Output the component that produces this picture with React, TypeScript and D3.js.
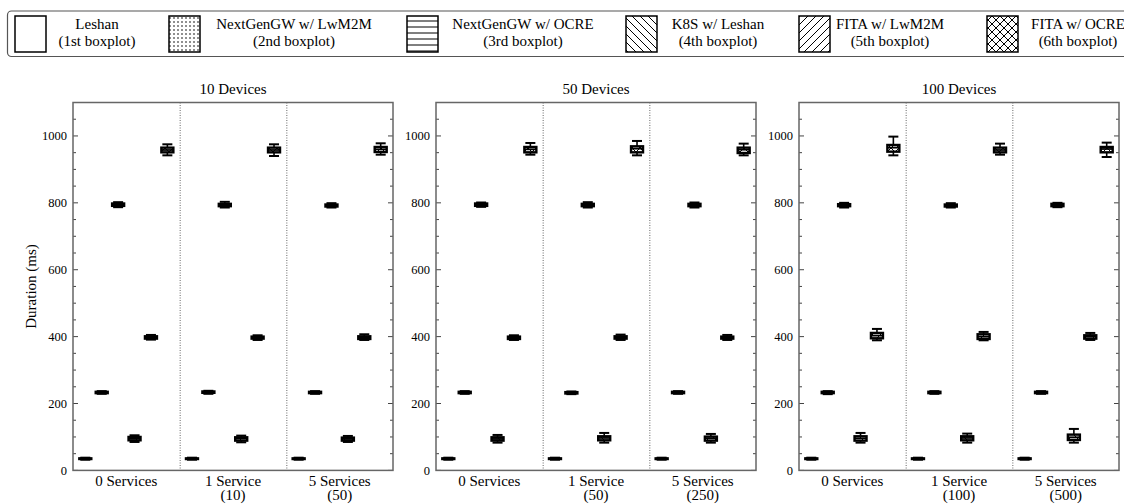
import * as d3 from "d3";
import React, { useRef, useEffect } from "react";

// panels / groups
const panelTitles = ["10 Devices", "50 Devices", "100 Devices"];
const groupLabels = [
  [["0 Services"], ["1 Service", "(10)"], ["5 Services", "(50)"]],
  [["0 Services"], ["1 Service", "(50)"], ["5 Services", "(250)"]],
  [["0 Services"], ["1 Service", "(100)"], ["5 Services", "(500)"]],
];

const seriesNames = [
  "Leshan",
  "NextGenGW w/ LwM2M",
  "NextGenGW w/ OCRE",
  "K8S w/ Leshan",
  "FITA w/ LwM2M",
  "FITA w/ OCRE",
];
const seriesNotes = [
  "(1st boxplot)",
  "(2nd boxplot)",
  "(3rd boxplot)",
  "(4th boxplot)",
  "(5th boxplot)",
  "(6th boxplot)",
];
const seriesPatterns = ["none", "dots", "hlines", "bdiag", "fdiag", "cross"];

// [whisker low, q1, median, q3, whisker high] -- panel 1 (3 groups), panel 2, panel 3
const leshanStats = [
  [32, 34, 35, 36, 38], [32, 34, 35, 36, 38], [32, 34, 35, 36, 38],
  [32, 34, 35, 36, 38], [32, 34, 35, 36, 38], [32, 34, 35, 36, 38],
  [32, 34, 35, 36, 38], [32, 34, 35, 36, 38], [32, 34, 35, 36, 38],
];
const ngwLwm2mStats = [
  [229, 231, 233, 235, 237], [229, 232, 234, 236, 238], [229, 231, 233, 235, 237],
  [229, 231, 233, 235, 237], [228, 230, 232, 234, 236], [229, 231, 233, 235, 237],
  [228, 231, 233, 235, 237], [229, 231, 233, 235, 237], [229, 231, 233, 235, 237],
];
const ngwOcreStats = [
  [787, 791, 795, 798, 802], [786, 790, 794, 797, 803], [786, 789, 792, 795, 799],
  [788, 791, 795, 798, 801], [786, 790, 794, 797, 802], [786, 790, 794, 797, 801],
  [786, 790, 793, 796, 800], [786, 789, 792, 795, 799], [787, 790, 794, 797, 800],
];
const k8sStats = [
  [85, 90, 96, 100, 105], [84, 89, 95, 99, 104], [85, 89, 94, 98, 103],
  [83, 89, 94, 99, 106], [83, 90, 97, 102, 112], [83, 89, 96, 101, 109],
  [83, 89, 96, 102, 112], [83, 90, 97, 102, 110], [83, 91, 99, 107, 124],
];
const fitaLwm2mStats = [
  [391, 394, 398, 401, 405], [390, 394, 397, 400, 404], [390, 393, 397, 401, 407],
  [390, 393, 397, 400, 404], [390, 394, 398, 401, 406], [390, 394, 397, 400, 405],
  [389, 395, 403, 411, 423], [389, 393, 400, 407, 414], [390, 394, 400, 404, 411],
];
const fitaOcreStats = [
  [942, 951, 958, 965, 975], [940, 951, 958, 965, 975], [944, 952, 960, 967, 978],
  [944, 951, 960, 967, 979], [942, 951, 962, 969, 985], [942, 949, 959, 965, 977],
  [942, 953, 965, 973, 998], [944, 951, 958, 965, 977], [937, 951, 961, 967, 980],
];
const allStats = [leshanStats, ngwLwm2mStats, ngwOcreStats, k8sStats, fitaLwm2mStats, fitaOcreStats];

const yTickLabels = [0, 200, 400, 600, 800, 1000];
const yMax = 1100;

// legend layout (swatch left edge, text centre)
const legendSwatchX = [15, 169, 407, 626, 799, 987];
const legendTextX = [97, 294, 523, 718, 890, 1078];

const FONT = "'Liberation Serif', 'Times New Roman', serif";

const BoxChart: React.FC<{ width?: number; height?: number }> = ({ width = 1124, height = 504 }) => {
  const svgRef = useRef<SVGSVGElement | null>(null);

  useEffect(() => {
    const svg = d3.select(svgRef.current).attr("width", width).attr("height", height).html("");

    // hatch patterns
    const defs = svg.append("defs");
    const pat = (id: string, size: number) =>
      defs.append("pattern").attr("id", id).attr("patternUnits", "userSpaceOnUse")
        .attr("width", size).attr("height", size);
    const dots = pat("dots", 4);
    dots.append("rect").attr("width", 4).attr("height", 4).attr("fill", "white");
    dots.append("circle").attr("cx", 2).attr("cy", 2).attr("r", 0.8).attr("fill", "black");
    const hl = pat("hlines", 6);
    hl.append("rect").attr("width", 6).attr("height", 6).attr("fill", "white");
    hl.append("line").attr("x1", 0).attr("x2", 6).attr("y1", 3).attr("y2", 3).attr("stroke", "black").attr("stroke-width", 1);
    const bd = pat("bdiag", 8);
    bd.append("rect").attr("width", 8).attr("height", 8).attr("fill", "white");
    bd.append("path").attr("d", "M-2,-2L10,10M-2,6L2,10M6,-2L10,2").attr("stroke", "black").attr("stroke-width", 1);
    const fd = pat("fdiag", 8);
    fd.append("rect").attr("width", 8).attr("height", 8).attr("fill", "white");
    fd.append("path").attr("d", "M-2,10L10,-2M-2,2L2,-2M6,10L10,6").attr("stroke", "black").attr("stroke-width", 1);
    const cr = pat("cross", 8);
    cr.append("rect").attr("width", 8).attr("height", 8).attr("fill", "white");
    cr.append("path").attr("d", "M-2,-2L10,10M-2,6L2,10M6,-2L10,2M-2,10L10,-2M-2,2L2,-2M6,10L10,6")
      .attr("stroke", "black").attr("stroke-width", 1);
    const fillOf = (p: string) => (p === "none" ? "white" : `url(#${p})`);

    // legend
    svg.append("rect")
      .attr("x", 7.5).attr("y", 11).attr("width", 1140).attr("height", 45.5)
      .attr("rx", 4).attr("fill", "white").attr("stroke", "#555").attr("stroke-width", 1.2);

    seriesNames.forEach((name, i) => {
      svg.append("rect")
        .attr("x", legendSwatchX[i]).attr("y", 16).attr("width", 31).attr("height", 36)
        .attr("fill", fillOf(seriesPatterns[i])).attr("stroke", "black").attr("stroke-width", 1.5);
      [name, seriesNotes[i]].forEach((line, li) => {
        svg.append("text")
          .attr("x", legendTextX[i]).attr("y", 29 + li * 17)
          .attr("text-anchor", "middle").attr("fill", "#000")
          .style("font-family", FONT).style("font-size", "15px")
          .text(line);
      });
    });

    // panels
    const panelW = 320;
    const panelStep = 363;
    const plotTop = 102.5;
    const plotBottom = 470.4;
    const yScale = d3.scaleLinear().domain([0, yMax]).range([plotBottom, plotTop]);
    const groupScale = d3.scaleBand<number>().domain([0, 1, 2]).range([0, panelW]);
    const boxScale = d3.scalePoint<number>().domain(d3.range(6)).range([0, groupScale.bandwidth()]).padding(0.75);

    const boxW = 12;
    const capW = 10;

    panelTitles.forEach((title, p) => {
      const g = svg.append("g").attr("transform", `translate(${73 + p * panelStep},0)`);

      // group separators
      [1, 2].forEach(k => {
        g.append("line")
          .attr("x1", groupScale(k)! + 0.5).attr("x2", groupScale(k)! + 0.5)
          .attr("y1", plotTop).attr("y2", plotBottom)
          .attr("stroke", "#666").attr("stroke-width", 1).attr("stroke-dasharray", "1,1.5");
      });

      // ticks (both sides, inward)
      const ticks = d3.range(0, yMax + 1, 50);
      ticks.forEach(v => {
        const major = v % 200 === 0;
        const len = major ? 5 : 3;
        g.append("line").attr("x1", 0).attr("x2", len).attr("y1", yScale(v)).attr("y2", yScale(v))
          .attr("stroke", "#444").attr("stroke-width", 1);
        g.append("line").attr("x1", panelW).attr("x2", panelW - len).attr("y1", yScale(v)).attr("y2", yScale(v))
          .attr("stroke", "#444").attr("stroke-width", 1);
      });

      yTickLabels.forEach(v => {
        g.append("text")
          .attr("x", -6).attr("y", yScale(v)).attr("dy", "0.35em")
          .attr("text-anchor", "end").attr("fill", "#000")
          .style("font-family", FONT).style("font-size", "12.5px")
          .text(v);
      });

      // frame
      g.append("rect")
        .attr("x", 0).attr("y", plotTop).attr("width", panelW).attr("height", plotBottom - plotTop)
        .attr("fill", "none").attr("stroke", "#666").attr("stroke-width", 1.5);

      // title
      g.append("text")
        .attr("x", panelW / 2).attr("y", 94).attr("text-anchor", "middle").attr("fill", "#000")
        .style("font-family", FONT).style("font-size", "15px")
        .text(title);

      // group labels
      groupLabels[p].forEach((lines, k) => {
        lines.forEach((line, li) => {
          g.append("text")
            .attr("x", groupScale(k)! + groupScale.bandwidth() / 2)
            .attr("y", 486 + li * 14).attr("text-anchor", "middle").attr("fill", "#000")
            .style("font-family", FONT).style("font-size", "15px")
            .text(line);
        });
      });

      // boxes
      [0, 1, 2].forEach(k => {
        allStats.forEach((stats, s) => {
          const [wl, q1, med, q3, wh] = stats[p * 3 + k];
          const cx = groupScale(k)! + boxScale(s)!;
          const bg = g.append("g");
          bg.append("line").attr("x1", cx).attr("x2", cx).attr("y1", yScale(wh)).attr("y2", yScale(q3))
            .attr("stroke", "black").attr("stroke-width", 1.6);
          bg.append("line").attr("x1", cx).attr("x2", cx).attr("y1", yScale(q1)).attr("y2", yScale(wl))
            .attr("stroke", "black").attr("stroke-width", 1.6);
          [wl, wh].forEach(v => {
            bg.append("line").attr("x1", cx - capW / 2).attr("x2", cx + capW / 2)
              .attr("y1", yScale(v)).attr("y2", yScale(v))
              .attr("stroke", "black").attr("stroke-width", 2);
          });
          bg.append("rect")
            .attr("x", cx - boxW / 2).attr("width", boxW)
            .attr("y", yScale(q3)).attr("height", Math.max(yScale(q1) - yScale(q3), 0.5))
            .attr("fill", fillOf(seriesPatterns[s])).attr("stroke", "black").attr("stroke-width", 2.4);
          bg.append("line").attr("x1", cx - boxW / 2).attr("x2", cx + boxW / 2)
            .attr("y1", yScale(med)).attr("y2", yScale(med))
            .attr("stroke", "black").attr("stroke-width", 1.8);
        });
      });
    });

    // y label
    svg.append("text")
      .attr("transform", `translate(36,${(plotTop + plotBottom) / 2}) rotate(-90)`)
      .attr("text-anchor", "middle").attr("fill", "#000")
      .style("font-family", FONT).style("font-size", "15px")
      .text("Duration (ms)");
  }, [width, height]);

  return <svg ref={svgRef} style={{ position: "absolute", left: 0, top: 0, background: "white" }}></svg>;
};

export default function App() {
  return <BoxChart width={1124} height={504} />;
}
